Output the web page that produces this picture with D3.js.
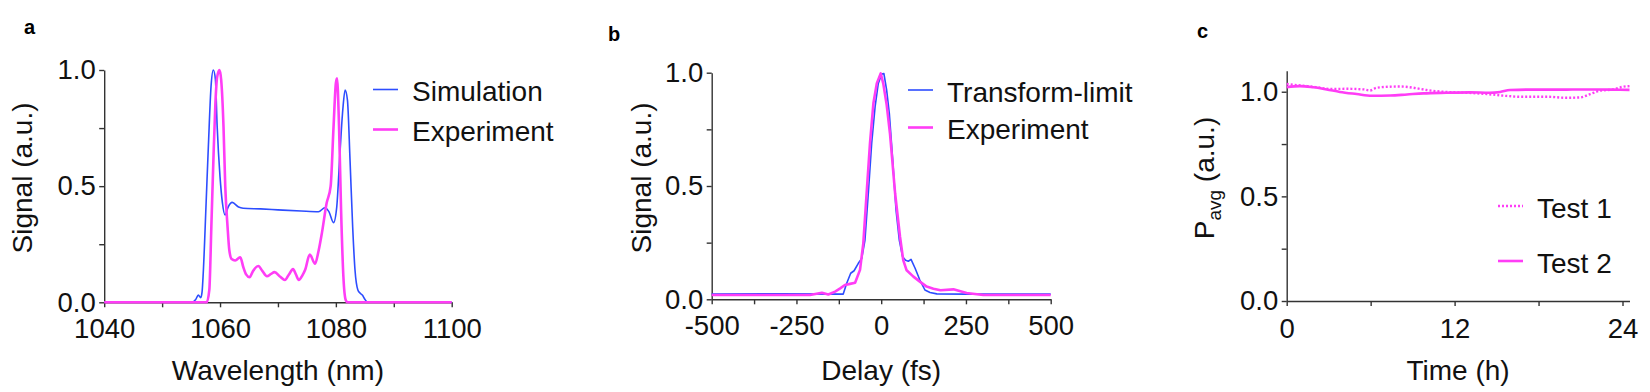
<!DOCTYPE html>
<html>
<head>
<meta charset="utf-8">
<script src="https://cdn.jsdelivr.net/npm/d3@7"></script>
<style>
  body { margin: 0; background: #fff; }
  svg { display: block; font-family: "Liberation Sans", Arial, sans-serif; }
  .axis path, .axis line { stroke: #333; stroke-width: 1.4; }
  .axis text { font-size: 27.5px; fill: #111; font-family: "Liberation Sans", Arial, sans-serif; }
</style>
</head>
<body>
<svg id="chart" width="1650" height="392"></svg>
<script>
// ---- panel a: spectrum (wavelength nm, signal) ----
const simulation = [
  [1040, 0], [1055.2, 0], [1055.8, 0.012], [1056.25, 0.031], [1056.67, 0.02], [1056.9, 0.045],
  [1057.1, 0.125], [1057.6, 0.43], [1058.0, 0.68], [1058.45, 0.93], [1058.84, 1.0], [1059.2, 0.96],
  [1059.5, 0.76], [1060.0, 0.54], [1060.4, 0.43], [1060.86, 0.376], [1061.4, 0.41], [1062.1, 0.43],
  [1063.2, 0.41], [1064.0, 0.405], [1067, 0.402], [1070, 0.398], [1074, 0.393], [1077.0, 0.39],
  [1078.1, 0.407], [1078.8, 0.39], [1079.6, 0.343], [1080.15, 0.41], [1080.7, 0.64], [1081.2, 0.83],
  [1081.6, 0.914], [1082.0, 0.87], [1082.45, 0.61], [1082.9, 0.325], [1083.3, 0.14], [1083.8, 0.053],
  [1084.2, 0.039], [1084.6, 0.03], [1085.0, 0.013], [1085.5, 0], [1100, 0]
];
const experimentA = [
  [1040, 0], [1057.7, 0], [1058.15, 0.053], [1058.5, 0.325], [1058.85, 0.61], [1059.2, 0.857],
  [1059.5, 0.97], [1059.9, 1.0], [1060.2, 0.957], [1060.6, 0.756], [1060.9, 0.5], [1061.3, 0.325],
  [1061.6, 0.225], [1062.0, 0.186], [1062.6, 0.18], [1063.0, 0.186], [1063.5, 0.194], [1064.0, 0.153],
  [1064.5, 0.12], [1065.1, 0.108], [1065.7, 0.135], [1066.6, 0.156], [1067.3, 0.135], [1068.1, 0.112],
  [1068.8, 0.122], [1069.4, 0.13], [1070.4, 0.11], [1071.2, 0.096], [1071.9, 0.12], [1072.6, 0.143],
  [1073.1, 0.12], [1073.6, 0.096], [1074.2, 0.115], [1074.7, 0.14], [1075.5, 0.206], [1076.4, 0.166],
  [1077.0, 0.22], [1077.6, 0.3], [1078.4, 0.426], [1079.1, 0.5], [1079.6, 0.756], [1080.0, 0.943],
  [1080.2, 0.964], [1080.55, 0.756], [1080.9, 0.397], [1081.3, 0.11], [1081.7, 0.01], [1082, 0], [1100, 0]
];

// ---- panel b: autocorrelation (delay fs, signal) ----
const transformLimit = [
  [-500, 0.023], [-300, 0.024], [-112, 0.023], [-102, 0.07], [-90, 0.115], [-80, 0.126],
  [-67.5, 0.159], [-57.5, 0.18], [-48, 0.26], [-38, 0.468], [-28, 0.69], [-18, 0.85], [-8.6, 0.953],
  [1.5, 0.994], [8, 0.996], [16, 0.924], [24, 0.82], [34, 0.615], [43.7, 0.394], [53.5, 0.26],
  [63, 0.188], [72, 0.172], [80, 0.168], [88, 0.176], [100, 0.137], [114, 0.085], [129, 0.041],
  [144, 0.03], [164, 0.024], [250, 0.023], [500, 0.023]
];
const experimentB = [
  [-500, 0.019], [-210, 0.019], [-175, 0.029], [-156, 0.021], [-136, 0.034], [-121, 0.048],
  [-107, 0.063], [-92, 0.068], [-77, 0.073], [-62.5, 0.13], [-52.8, 0.247], [-43, 0.468], [-33, 0.69],
  [-23, 0.865], [-13, 0.953], [-1.5, 0.997], [6, 0.953], [16, 0.86], [26, 0.73], [41, 0.468],
  [55.5, 0.276], [65, 0.173], [75, 0.128], [95, 0.1], [114, 0.078], [134, 0.056], [154, 0.047],
  [175, 0.04], [213, 0.044], [252, 0.028], [301, 0.019], [500, 0.019]
];

// ---- panel c: average power over time (h) ----
const test1 = [
  [0, 1.037], [0.95, 1.03], [1.9, 1.024], [3.1, 1.013], [4.3, 1.014], [5.5, 1.011], [5.95, 1.006],
  [6.43, 1.019], [7.38, 1.024], [8.1, 1.025], [9.05, 1.019], [10.0, 1.008], [11.4, 0.999],
  [12.87, 0.995], [14.3, 0.989], [15.7, 0.98], [16.7, 0.976], [18.6, 0.976], [20.0, 0.971],
  [21.0, 0.973], [21.7, 0.989], [22.4, 1.005], [23.35, 1.011], [24.05, 1.024], [24.5, 1.027]
];
const test2 = [
  [0, 1.022], [0.95, 1.027], [1.9, 1.021], [2.86, 1.011], [3.8, 0.999], [5.0, 0.989], [6.08, 0.981],
  [7.4, 0.982], [8.6, 0.987], [9.77, 0.992], [11.4, 0.995], [13.1, 0.997], [14.5, 0.995],
  [15.25, 0.999], [15.96, 1.008], [17.4, 1.01], [19.8, 1.01], [21.4, 1.011], [23.3, 1.01], [24.5, 1.009]
];

const yTicks = [0, 0.5, 1.0];
const yMinor = [0.25, 0.75];

const blue = '#2d4dff';
const pink = '#ff3df6';

const svg = d3.select('#chart');
svg.append('rect').attr('width', 1650).attr('height', 392).attr('fill', '#fff');

function drawPanel(p) {
    const x = d3.scaleLinear().domain(p.xDomain).range(p.xRange);
    const y = d3.scaleLinear().domain(p.yDomain).range(p.yRange);
    const g = svg.append('g');

    // minor ticks
    g.append('g').attr('class', 'axis')
        .attr('transform', `translate(0,${p.yRange[0]})`)
        .call(d3.axisBottom(x).tickValues(p.xMinor).tickFormat('').tickSize(5).tickSizeOuter(0))
        .call(s => s.select('.domain').remove());
    g.append('g').attr('class', 'axis')
        .attr('transform', `translate(${p.xRange[0]},0)`)
        .call(d3.axisLeft(y).tickValues(yMinor).tickFormat('').tickSize(5).tickSizeOuter(0))
        .call(s => s.select('.domain').remove());

    // plain hyphen for negatives, like the original
    g.append('g').attr('class', 'axis')
        .attr('transform', `translate(0,${p.yRange[0]})`)
        .call(d3.axisBottom(x).tickValues(p.xTicks).tickFormat(d => String(d))
            .tickSize(5).tickSizeOuter(0).tickPadding(p.xPad));
    g.append('g').attr('class', 'axis')
        .attr('transform', `translate(${p.xRange[0]},0)`)
        .call(d3.axisLeft(y).tickValues(yTicks).tickFormat(d3.format('.1f'))
            .tickSize(5).tickSizeOuter(0).tickPadding(3.5));

    const line = d3.line().x(d => x(d[0])).y(d => y(d[1])).curve(p.curve);
    p.series.forEach(s => {
        g.append('path')
            .datum(s.data)
            .attr('fill', 'none')
            .attr('stroke', s.color)
            .attr('stroke-width', s.width)
            .attr('stroke-dasharray', s.dash || null)
            .attr('stroke-linejoin', 'round')
            .attr('d', line);
    });

    // legend
    p.series.forEach((s, i) => {
        const ly = p.legend.y[i];
        g.append('line')
            .attr('x1', p.legend.x).attr('x2', p.legend.x + 25)
            .attr('y1', ly).attr('y2', ly)
            .attr('stroke', s.color).attr('stroke-width', s.width)
            .attr('stroke-dasharray', s.dash || null);
        g.append('text')
            .attr('x', p.legend.x + 39).attr('y', ly + 11.5)
            .attr('font-size', 28).attr('fill', '#111')
            .text(s.name);
    });

    // axis titles
    g.append('text')
        .attr('x', (p.xRange[0] + p.xRange[1]) / 2).attr('y', 380)
        .attr('text-anchor', 'middle').attr('font-size', 28).attr('fill', '#111')
        .text(p.xTitle);
    const yt = g.append('text')
        .attr('transform', `translate(${p.yTitleX},178) rotate(-90)`)
        .attr('text-anchor', 'middle').attr('font-size', 28).attr('fill', '#111');
    p.yTitle(yt);

    g.append('text')
        .attr('x', p.label[0]).attr('y', p.label[1])
        .attr('font-size', 20).attr('font-weight', 'bold').attr('fill', '#000')
        .text(p.labelText);
}

drawPanel({
    xDomain: [1040, 1100], xRange: [104.2, 451.7],
    yDomain: [0, 1], yRange: [302.3, 70],
    xTicks: [1040, 1060, 1080, 1100], xMinor: [1050, 1070, 1090], xPad: 11,
    curve: d3.curveMonotoneX,
    series: [
        { name: 'Simulation', data: simulation, color: blue, width: 1.6 },
        { name: 'Experiment', data: experimentA, color: pink, width: 2.6 }
    ],
    legend: { x: 373, y: [89.5, 129.5] },
    xTitle: 'Wavelength (nm)',
    yTitleX: 32,
    yTitle: t => t.text('Signal (a.u.)'),
    label: [24, 34], labelText: 'a'
});

drawPanel({
    xDomain: [-500, 500], xRange: [711.7, 1050.7],
    yDomain: [0, 1], yRange: [299.3, 72.7],
    xTicks: [-500, -250, 0, 250, 500], xMinor: [-375, -125, 125, 375], xPad: 11,
    curve: d3.curveLinear,
    series: [
        { name: 'Transform-limit', data: transformLimit, color: blue, width: 1.6 },
        { name: 'Experiment', data: experimentB, color: pink, width: 2.6 }
    ],
    legend: { x: 908, y: [90, 127.5] },
    xTitle: 'Delay (fs)',
    yTitleX: 651,
    yTitle: t => t.text('Signal (a.u.)'),
    label: [608, 40.5], labelText: 'b'
});

drawPanel({
    xDomain: [0, 24.5], xRange: [1286.7, 1629.5],
    yDomain: [0, 1.1], yRange: [301, 70.8],
    xTicks: [0, 12, 24], xMinor: [6, 18], xPad: 12,
    curve: d3.curveMonotoneX,
    series: [
        { name: 'Test 1', data: test1, color: pink, width: 2.4, dash: '2,2' },
        { name: 'Test 2', data: test2, color: pink, width: 2.6 }
    ],
    legend: { x: 1498, y: [206, 261] },
    xTitle: 'Time (h)',
    yTitleX: 1214,
    yTitle: t => {
        t.append('tspan').text('P');
        t.append('tspan').attr('font-size', 19).attr('dy', 7).text('avg');
        t.append('tspan').attr('dy', -7).text(' (a.u.)');
    },
    label: [1197, 38.3], labelText: 'c'
});
</script>
</body>
</html>
